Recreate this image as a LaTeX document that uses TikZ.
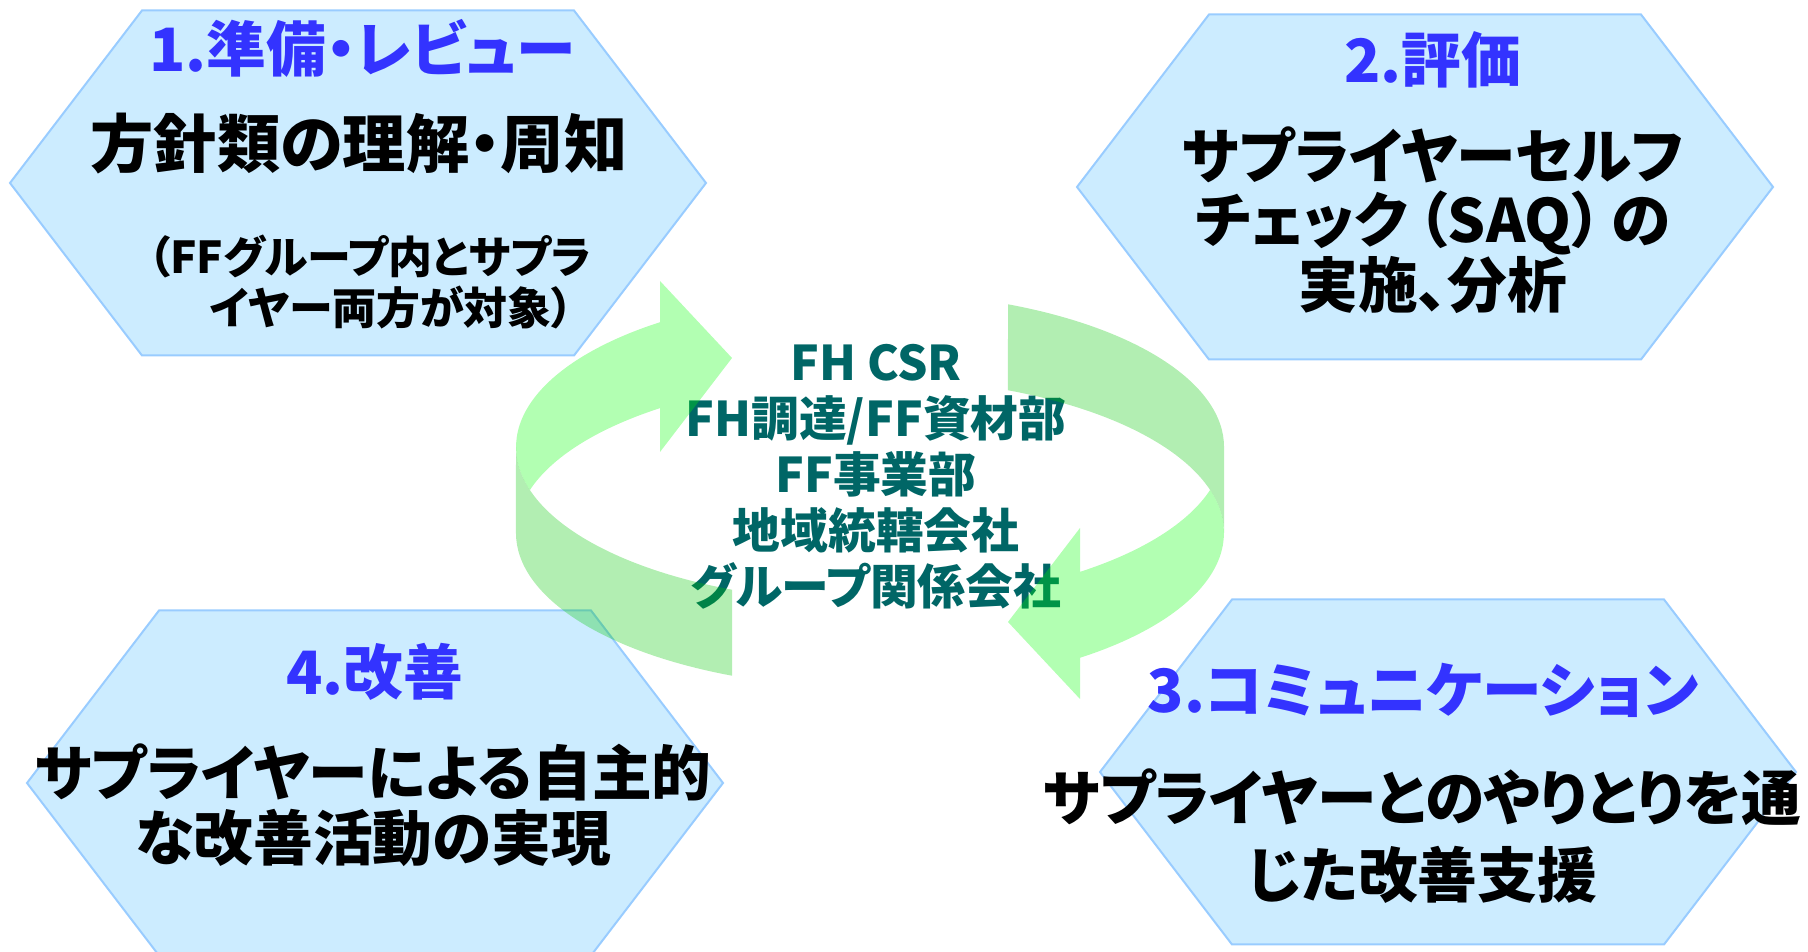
\documentclass[tikz,border=0pt]{standalone}
\usepackage{fontspec}
\newfontfamily\jpfont{Noto Sans CJK JP}[RawFeature=+palt]
\definecolor{hexfill}{RGB}{204,236,255}
\definecolor{hexline}{RGB}{153,204,255}
\definecolor{stepblue}{RGB}{51,51,255}
\definecolor{orgteal}{RGB}{0,102,102}
\definecolor{ringlight}{RGB}{0,255,0}
\definecolor{ringdark}{RGB}{0,200,0}

\begin{document}
\begin{tikzpicture}[x=0.1mm,y=0.1mm,
  hexbox/.style={draw=hexline,fill=hexfill,line width=0.2mm},
  hexagon/.pic={\path[hexbox] (-348,0) -- (-216,172.5) -- (216,172.5) -- (348,0) -- (216,-172.5) -- (-216,-172.5) -- cycle;},
  steptitle/.style={text=stepblue,font=\jpfont\bfseries\fontsize{17}{20}\selectfont},
  stepbody/.style={align=center,font=\jpfont\bfseries\fontsize{17}{18.4}\selectfont},
  stepnote/.style={align=center,font=\jpfont\bfseries\fontsize{12.5}{14.5}\selectfont},
  orgs/.style={align=center,text=orgteal,font=\jpfont\bfseries\fontsize{13.6}{15.9}\selectfont},
  ringfront/.style={fill=ringlight,fill opacity=0.3},
  ringback/.style={fill=ringdark,fill opacity=0.3},
  ringarc/.style={x radius=35.4mm,y radius=15.5mm}]
\useasboundingbox (0,0) rectangle (1808,952);

\path (358,769) pic {hexagon}
      (1425,765) pic {hexagon}
      (1448,180) pic {hexagon}
      (375,169) pic {hexagon};

\path
(362,904) node[steptitle] (prep) {1.準備・レビュー}
(359,808) node[stepbody,font=\jpfont\bfseries\fontsize{18}{20}\selectfont] (prepbody) {方針類の理解・周知}
(370,670) node[stepnote] (prepnote) {（FFグループ内とサプラ\\　イヤー両方が対象）}

(1433,892) node[steptitle] (eval) {2.評価}
(1433,732) node[stepbody] (evalbody) {サプライヤーセルフ\\チェック\,（SAQ）\,の\\実施、分析}

(1423,262) node[steptitle] (comm) {3.コミュニケーション}
(1422,116) node[stepbody,font=\jpfont\bfseries\fontsize{17}{21.9}\selectfont] (commbody) {サプライヤーとのやりとりを通\\じた改善支援}

(375,280) node[steptitle] (impr) {4.改善}
(373,147) node[stepbody] (imprbody) {サプライヤーによる自主的\\な改善活動の実現}

(876,475) node[orgs] (orgs) {FH CSR\\FH調達/FF資材部\\FF事業部\\地域統轄会社\\グループ関係会社};

% left ring arrow
\fill[ringfront] (660,629.8) arc[ringarc,start angle=126.4,end angle=196.1]
  arc[ringarc,start angle=163.9,end angle=126.4]
  -- (660,500) -- (732,594) -- (660,671) -- cycle;
\fill[ringback] (516,505) arc[ringarc,start angle=180,end angle=247.06]
  -- (732,276.3) arc[ringarc,start angle=247.06,end angle=180] -- cycle;
% right ring arrow
\fill[ringback] (1224,419) arc[ringarc,start angle=0,end angle=67.06]
  -- (1008,647.7) arc[ringarc,start angle=67.06,end angle=0] -- cycle;
\fill[ringfront] (1080,294.2) arc[ringarc,start angle=-53.6,end angle=16.1]
  arc[ringarc,start angle=-16.1,end angle=-53.6]
  -- (1080,424) -- (1008,330) -- (1080,253) -- cycle;
\end{tikzpicture}
\end{document}
